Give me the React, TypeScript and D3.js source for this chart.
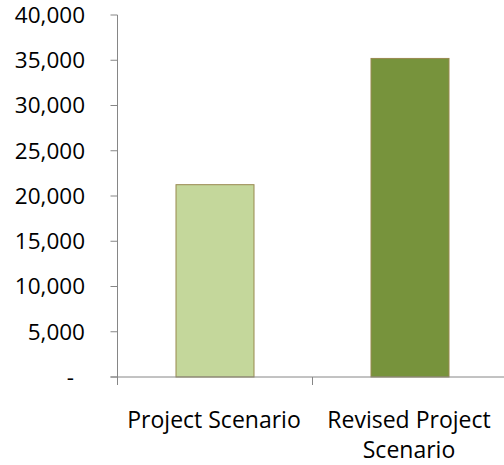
import React from "react";
import * as d3 from "d3";

const categories: string[][] = [["Project Scenario"], ["Revised Project", "Scenario"]];
const values: number[] = [21250, 35200];
const fills: string[] = ["#C4D79B", "#77933C"];
const yTicks: number[] = [0, 5000, 10000, 15000, 20000, 25000, 30000, 35000, 40000];

export default function App() {
  const W = 504, H = 465;
  const left = 117.5, right = 507.5, top = 15, bottom = 377;
  const x = d3.scaleBand<number>().domain(d3.range(values.length)).range([left, right]).paddingInner(0).paddingOuter(0);
  const y = d3.scaleLinear().domain([0, 40000]).range([bottom, top]);
  const fmt = d3.format(",");
  const font = "'Open Sans', sans-serif";
  const bw = x.bandwidth() * 0.4;
  const axisColor = "#868686";
  return (
    <svg width={W} height={H} style={{ position: "absolute", left: 0, top: 0, background: "#fff" }}>
      {values.map((v, i) => {
        const cx = (x(i) as number) + x.bandwidth() / 2;
        return (
          <rect key={i} x={cx - bw / 2} y={y(v)} width={bw} height={bottom - y(v)}
            fill={fills[i]} stroke="#98894F" strokeWidth={1} />
        );
      })}
      <line x1={left} x2={left} y1={top} y2={bottom + 8} stroke={axisColor} strokeWidth={1} />
      <line x1={left - 7} x2={W} y1={bottom} y2={bottom} stroke={axisColor} strokeWidth={1} />
      {yTicks.map((t) => (
        <g key={t}>
          <line x1={left - 7} x2={left} y1={y(t)} y2={y(t)} stroke={axisColor} strokeWidth={1} />
          <text x={t === 0 ? 74 : 85} y={y(t)} dy="0.35em" textAnchor="end" fontFamily={font} fontSize={22.5} fill="#000">
            {t === 0 ? "-" : fmt(t)}
          </text>
        </g>
      ))}
      {values.map((_, i) => (
        <line key={"t" + i} x1={x(i) as number} x2={x(i) as number} y1={bottom} y2={bottom + 8} stroke={axisColor} strokeWidth={1} />
      ))}
      {categories.map((lines, i) => {
        const cx = (x(i) as number) + x.bandwidth() / 2 - 1;
        return (
          <text key={"c" + i} textAnchor="middle" fontFamily={font} fontSize={23} fill="#000">
            {lines.map((l, j) => (
              <tspan key={j} x={cx} y={428 + j * 30}>{l}</tspan>
            ))}
          </text>
        );
      })}
    </svg>
  );
}
